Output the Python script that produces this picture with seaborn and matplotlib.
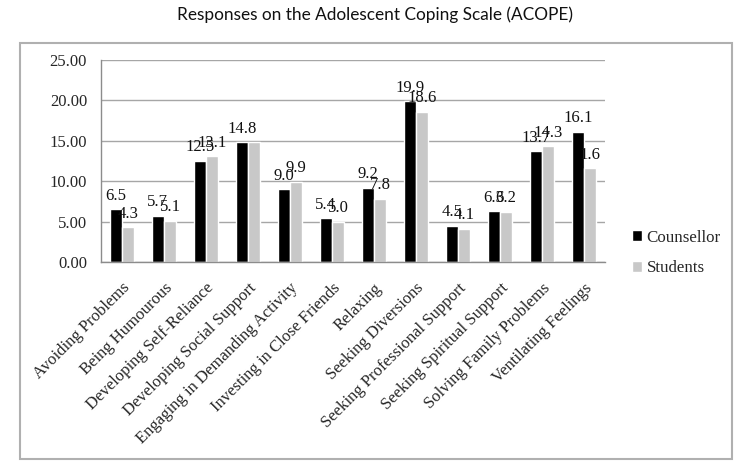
import matplotlib
matplotlib.use("Agg")
import matplotlib.pyplot as plt
import seaborn as sns
import pandas as pd
from matplotlib.patches import Rectangle

categories = ["Avoiding Problems", "Being Humourous", "Developing Self-Reliance",
              "Developing Social Support", "Engaging in Demanding Activity",
              "Investing in Close Friends", "Relaxing", "Seeking Diversions",
              "Seeking Professional Support", "Seeking Spiritual Support",
              "Solving Family Problems", "Ventilating Feelings"]
counsellor = [6.5, 5.7, 12.5, 14.8, 9.0, 5.4, 9.2, 19.9, 4.5, 6.3, 13.7, 16.1]
students = [4.3, 5.1, 13.1, 14.8, 9.9, 5.0, 7.8, 18.6, 4.1, 6.2, 14.3, 11.6]
counsellor_labels = ["6.5", "5.7", "12.5", "14.8", "9.0", "5.4", "9.2", "19.9", "4.5", "6.3", "13.7", "16.1"]
students_labels = ["4.3", "5.1", "13.1", "", "9.9", "5.0", "7.8", "18.6", "4.1", "6.2", "14.3", "1.6"]
series = ["Counsellor", "Students"]
yticks = [0, 5, 10, 15, 20, 25]

df = pd.DataFrame({
    "category": categories * 2,
    "value": counsellor + students,
    "group": [series[0]] * len(categories) + [series[1]] * len(categories),
})

sns.set_style("white")
plt.rcParams["font.family"] = ["Liberation Serif", "DejaVu Serif"]

fig = plt.figure(figsize=(7.38, 4.66), dpi=100)
ax = fig.add_axes([101 / 738, 1 - 262 / 466, (605 - 101) / 738, (262 - 60) / 466])

sns.barplot(data=df, x="category", y="value", hue="group",
            palette=["#000000", "#c8c8c8"], width=0.58, gap=0,
            saturation=1, ax=ax, legend=True)

for cont, labs in zip(ax.containers, [counsellor_labels, students_labels]):
    ax.bar_label(cont, labels=labs, padding=4, fontsize=12, color="#111111")

ax.set_ylim(0, 25)
ax.set_xlim(-0.5, len(categories) - 0.5)
ax.set_yticks(yticks)
ax.set_yticklabels([f"{v:.2f}" for v in yticks], fontsize=12)
ax.yaxis.grid(True, color="#a6a6a6", linewidth=1.0)
ax.set_axisbelow(True)
ax.set_xlabel("")
ax.set_ylabel("")

ax.set_xticks(range(len(categories)))
ax.set_xticklabels(categories, rotation=45, ha="right", rotation_mode="anchor", fontsize=12)
ax.tick_params(axis="x", which="major", length=0, pad=13)
ax.set_xticks([i - 0.5 for i in range(len(categories) + 1)], minor=True)
ax.tick_params(axis="x", which="minor", length=5, color="#8c8c8c", direction="out", width=1)
ax.tick_params(axis="y", length=4, color="#8c8c8c", direction="out", width=1, pad=6)

for s in ["top", "right"]:
    ax.spines[s].set_visible(False)
for s in ["left", "bottom"]:
    ax.spines[s].set_color("#8c8c8c")
    ax.spines[s].set_linewidth(1.0)

handles, labels = ax.get_legend_handles_labels()
ax.get_legend().remove()
fig.legend(handles, labels, loc="center left", bbox_to_anchor=(617 / 738, 1 - 253 / 466),
           frameon=False, fontsize=12.2, handlelength=0.6, handleheight=0.6,
           handletextpad=0.25, labelspacing=0.85)

fig.text(375 / 738, 1 - 15 / 466, "Responses on the Adolescent Coping Scale (ACOPE)",
         ha="center", va="center", fontsize=12.4, family=["Lato", "DejaVu Sans"], color="#111111")

fig.patches.append(Rectangle((20 / 738, 1 - 459 / 466), 712 / 738, 416 / 466,
                             transform=fig.transFigure, fill=False,
                             edgecolor="#b0b0b0", linewidth=1.5))

fig.savefig("out.png", dpi=100)
